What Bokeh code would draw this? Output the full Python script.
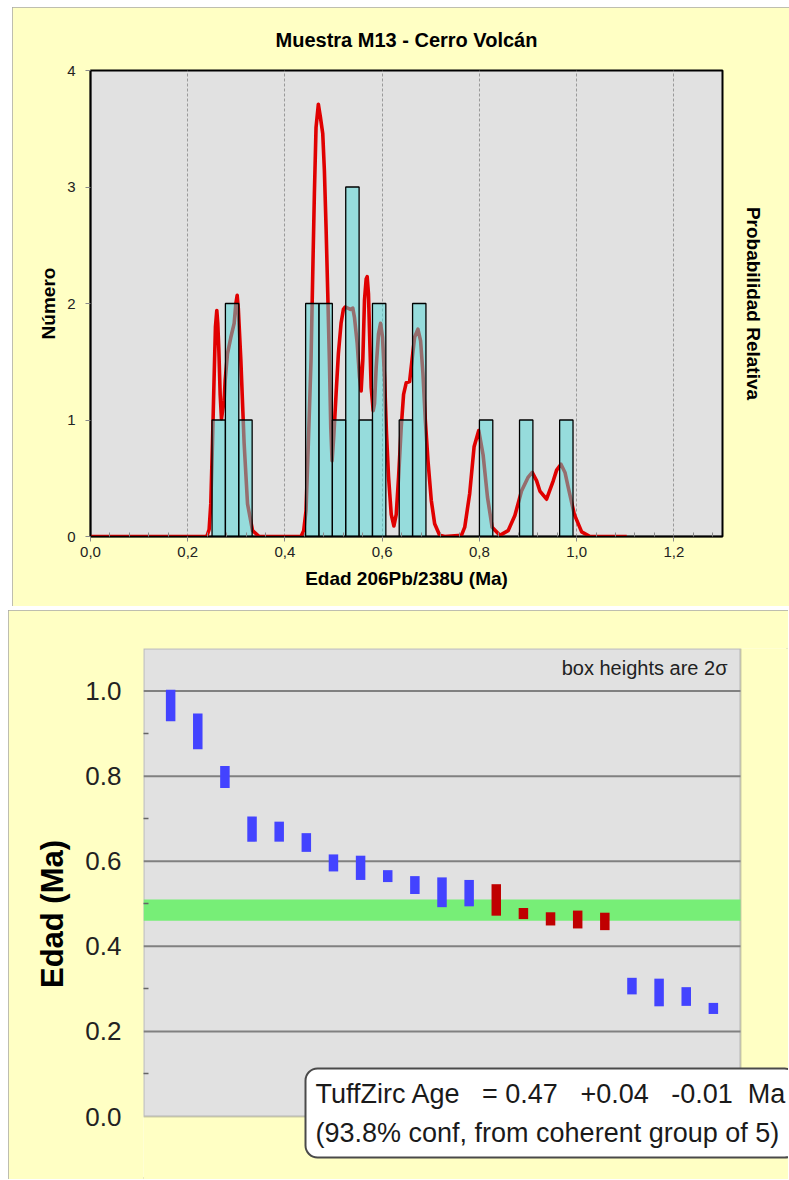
from bokeh.plotting import figure
from bokeh.models import (Range1d, FixedTicker, CustomJSTickFormatter, PrintfTickFormatter,
                          LinearAxis, Label, BoxAnnotation, ColumnDataSource)
from bokeh.embed import file_html
from bokeh.resources import INLINE

FONT = "Liberation Sans"
YELLOW = "#FFFFC4"
PLOTBG = "#E1E1E1"

# ---------------- data: histogram (top) ----------------
bin_left = [0.25, 0.2775, 0.305, 0.4425, 0.47, 0.4975, 0.525, 0.5525, 0.58,
            0.635, 0.6625, 0.80, 0.8825, 0.965]
bin_count = [1, 2, 1, 2, 2, 1, 3, 1, 2, 1, 2, 1, 1, 1]
bin_width = 0.0275

# relative probability curve (scaled to the count axis)
curve_x = [0.000, 0.2392, 0.244, 0.2474, 0.2509, 0.2543, 0.257, 0.2598, 0.2618, 0.264,
           0.2667, 0.2694, 0.2749, 0.2770, 0.2818, 0.2887, 0.2955, 0.2990, 0.3017, 0.304,
           0.3093, 0.316, 0.323, 0.3333, 0.347,
           0.433, 0.4385, 0.4433, 0.4481, 0.4536, 0.4577, 0.4605, 0.4639, 0.4687, 0.4729,
           0.4777, 0.4811, 0.4845, 0.488, 0.4914, 0.4942, 0.4969, 0.5003, 0.5051, 0.5099,
           0.5154, 0.5202, 0.5237, 0.5292, 0.5347, 0.5395, 0.543, 0.5485, 0.5533, 0.5567,
           0.5601, 0.5636, 0.567, 0.5691, 0.5718, 0.5746, 0.5773, 0.5815, 0.5842, 0.5876,
           0.5924, 0.5966, 0.6007, 0.6048, 0.6089, 0.6131, 0.6186, 0.6241, 0.6289, 0.6337,
           0.6392, 0.644, 0.6495, 0.6564, 0.6612, 0.6667, 0.6735, 0.679, 0.6838, 0.6887,
           0.6942, 0.701, 0.7079, 0.7182, 0.7285,
           0.763, 0.7698, 0.780, 0.789, 0.7986, 0.8076, 0.8165, 0.8261, 0.842, 0.859,
           0.8729, 0.8866, 0.9004, 0.9086, 0.9175, 0.9244, 0.9381, 0.952, 0.9588, 0.9677,
           0.976, 0.9828, 0.9952, 1.0103, 1.0275, 1.103]
curve_y = [0.00, 0.00, 0.06, 0.28, 0.80, 1.37, 1.80, 1.94, 1.83, 1.60,
           1.22, 1.01, 1.17, 1.34, 1.57, 1.71, 1.83, 2.00, 2.07, 1.96,
           1.51, 0.80, 0.28, 0.05, 0.00,
           0.00, 0.05, 0.22, 0.80, 1.51, 2.37, 2.94, 3.51, 3.71, 3.60,
           3.46, 3.14, 2.66, 2.09, 1.51, 0.94, 0.65, 0.85, 1.22, 1.57,
           1.83, 1.95, 1.97, 1.96, 1.95, 1.96, 1.88, 1.66, 1.37, 1.25,
           1.51, 2.03, 2.21, 2.23, 2.08, 1.66, 1.28, 1.08, 1.14, 1.45,
           1.74, 1.83, 1.71, 1.37, 0.88, 0.51, 0.19, 0.09, 0.19, 0.51,
           0.94, 1.22, 1.32, 1.33, 1.51, 1.71, 1.78, 1.68, 1.40, 1.00,
           0.65, 0.31, 0.11, 0.01, 0.00,
           0.01, 0.08, 0.37, 0.77, 0.91, 0.70, 0.34, 0.08, 0.01, 0.05,
           0.18, 0.39, 0.51, 0.55, 0.48, 0.39, 0.32, 0.48, 0.57, 0.62,
           0.55, 0.42, 0.19, 0.04, 0.00, 0.00]

x_ticks = [0.0, 0.2, 0.4, 0.6, 0.8, 1.0, 1.2]
y_ticks = [0, 1, 2, 3, 4]

# ---------------- data: ranked ages (bottom) ----------------
grain = list(range(1, 22))
age = [0.966, 0.905, 0.798, 0.6755, 0.6695, 0.644, 0.596, 0.5845, 0.565, 0.544, 0.527,
       0.525, 0.509, 0.477, 0.4645, 0.463, 0.4585, 0.3065, 0.2915, 0.282, 0.254]
half_box = [0.037, 0.042, 0.026, 0.0295, 0.0235, 0.022, 0.020, 0.0285, 0.014, 0.021, 0.035,
            0.031, 0.037, 0.013, 0.0155, 0.021, 0.0205, 0.0195, 0.0325, 0.022, 0.013]
in_group = [0] * 12 + [1] * 5 + [0] * 4
tz_age, tz_plus, tz_minus = 0.47, 0.04, 0.01
age_ticks = [0.0, 0.2, 0.4, 0.6, 0.8, 1.0]
age_top = 1.1
n_slots = len(grain) + 1

# ================= top chart =================
p1 = figure(width=777, height=599, x_range=Range1d(0, 1.3), y_range=Range1d(0, 4),
            output_backend="svg", toolbar_location=None,
            min_border_left=78, min_border_right=67, min_border_top=63, min_border_bottom=70,
            background_fill_color=PLOTBG, border_fill_color=YELLOW,
            outline_line_color="black", outline_line_width=2, margin=(7, 0, 0, 12),
            styles={"outline": "2px solid #A8A8A8", "outline-offset": "-2px"})

p1.title.text = "Muestra M13 - Cerro Volcán"
p1.title.align = "center"
p1.title.standoff = 39
p1.title.text_font = FONT
p1.title.text_font_size = "20px"
p1.title.text_font_style = "bold"
p1.title.text_color = "black"

p1.xaxis.ticker = FixedTicker(ticks=x_ticks,
                              minor_ticks=[round(i * 0.04, 2) for i in range(33) if i % 5])
p1.xaxis.formatter = CustomJSTickFormatter(code="return tick.toFixed(1).replace('.', ',');")
p1.yaxis.ticker = FixedTicker(ticks=y_ticks, minor_ticks=[])
for ax in (p1.xaxis[0], p1.yaxis[0]):
    ax.axis_line_color = "black"
    ax.axis_line_width = 1.5
    ax.major_tick_line_color = "#8A8A8A"
    ax.major_tick_in = 0
    ax.major_tick_out = 5
    ax.minor_tick_line_color = "#8A8A8A"
    ax.minor_tick_in = 4
    ax.minor_tick_out = 0
    ax.major_label_text_font = FONT
    ax.major_label_text_font_size = "15px"
    ax.major_label_text_color = "#222222"
    ax.axis_label_text_font = FONT
    ax.axis_label_text_font_style = "bold"
    ax.axis_label_text_font_size = "19px"
    ax.axis_label_text_color = "black"
p1.xaxis.major_label_standoff = 5
p1.xaxis.axis_label = "Edad 206Pb/238U (Ma)"
p1.xaxis.axis_label_standoff = 8
p1.yaxis.major_label_standoff = 10
p1.yaxis.axis_label = "Número"
p1.yaxis.axis_label_standoff = 5

right = LinearAxis(ticker=FixedTicker(ticks=[]), axis_label="Probabilidad Relativa",
                   axis_line_color=None, major_tick_line_color=None, minor_tick_line_color=None,
                   major_label_text_font_size="0px", axis_label_standoff=20,
                   axis_label_text_font=FONT, axis_label_text_font_style="bold",
                   axis_label_text_font_size="19px", axis_label_text_color="black")
p1.add_layout(right, "right")

p1.xgrid.grid_line_color = "#9A9A9A"
p1.xgrid.grid_line_dash = "3 2"
p1.xgrid.grid_line_width = 1
p1.ygrid.visible = False

p1.line(curve_x, curve_y, line_color="#E00000", line_width=3.6, line_join="round")

hist = ColumnDataSource(dict(left=bin_left,
                             right=[b + bin_width for b in bin_left],
                             top=bin_count))
p1.quad(left="left", right="right", bottom=0, top="top", source=hist,
        fill_color="#4FD8D8", fill_alpha=0.51, line_color="black", line_width=1.3)

# ================= bottom chart =================
# the frame reaches the right and bottom edges of the panel so that the result
# box can overhang the plot area as in the original; the plot area is [0, n_slots] x [0, 1.1]
W2, H2 = 780, 569
left_px, right_px_area, top_px, bottom_px_area = 135, 597, 38, 468
x_end = n_slots * (W2 - left_px) / right_px_area
y_start = -age_top * (H2 - top_px - bottom_px_area) / bottom_px_area
p2 = figure(width=W2, height=H2, x_range=Range1d(0, x_end), y_range=Range1d(y_start, age_top),
            output_backend="svg", toolbar_location=None,
            min_border_left=left_px, min_border_right=0, min_border_top=top_px,
            min_border_bottom=0,
            background_fill_color=YELLOW, border_fill_color=YELLOW,
            outline_line_color=None, margin=(4, 0, 0, 8),
            styles={"outline": "2px solid #A8A8A8", "outline-offset": "-2px"})
p2.xaxis.visible = False
p2.xgrid.visible = False
p2.ygrid.visible = False

# plot area
p2.add_layout(BoxAnnotation(left=0, right=n_slots, bottom=0, top=age_top,
                            fill_color=PLOTBG, fill_alpha=1, line_color="#5A5A5A",
                            line_width=2, level="image"))
# horizontal grid lines inside the plot area
p2.segment(x0=[0] * (len(age_ticks) - 1), x1=[n_slots] * (len(age_ticks) - 1),
           y0=age_ticks[1:], y1=age_ticks[1:], line_color="#808080", line_width=2,
           level="underlay")

ya = p2.yaxis[0]
ya.bounds = (0, age_top)
ya.ticker = FixedTicker(ticks=age_ticks, minor_ticks=[0.1, 0.3, 0.5, 0.7, 0.9])
ya.formatter = PrintfTickFormatter(format="%.1f")
ya.axis_line_color = None
ya.major_tick_line_color = None
ya.major_tick_in = 0
ya.major_tick_out = 0
ya.minor_tick_in = 5
ya.minor_tick_out = 0
ya.minor_tick_line_color = "#666666"
ya.minor_tick_line_width = 1.5
ya.major_label_standoff = 22
ya.major_label_text_font = FONT
ya.major_label_text_font_size = "26px"
ya.major_label_text_color = "#222222"
ya.axis_label = "Edad (Ma)"
ya.axis_label_standoff = 12
ya.axis_label_text_font = FONT
ya.axis_label_text_font_style = "bold"
ya.axis_label_text_font_size = "31px"
ya.axis_label_text_color = "black"

p2.add_layout(BoxAnnotation(left=0, right=n_slots,
                            bottom=tz_age - tz_minus, top=tz_age + tz_plus,
                            fill_color="#77EE77", fill_alpha=1, line_color=None,
                            level="underlay"))

boxes = ColumnDataSource(dict(
    x=grain,
    top=[a + h for a, h in zip(age, half_box)],
    bottom=[a - h for a, h in zip(age, half_box)],
    color=["#C00000" if g else "#4343FF" for g in in_group]))
p2.vbar(x="x", width=0.35, top="top", bottom="bottom", fill_color="color",
        line_color=None, source=boxes)

p2.add_layout(Label(x=n_slots - 0.48, y=1.053, text="box heights are 2σ", text_align="right",
                    text_baseline="middle", text_font=FONT, text_font_size="20px",
                    text_color="#222222"))

nb = "\u00a0"
tz_text = ("TuffZirc Age" + nb * 3 + "= " + f"{tz_age:.2f}" + nb * 3 + f"+{tz_plus:.2f}"
           + nb * 3 + f"-{tz_minus:.2f}" + nb * 2 + "Ma\n"
           + "(93.8% conf, from coherent group of 5)")
common = dict(x=5.97, y=0.1128, text=tz_text, text_align="left", text_baseline="top",
              text_font=FONT, text_font_size="27px", text_line_height=1.3,
              padding=10, border_radius=12)
p2.add_layout(Label(**common, text_alpha=0, background_fill_color="#7A7A7A",
                    background_fill_alpha=0.7, x_offset=4, y_offset=-5))
p2.add_layout(Label(**common, text_color="#1A1A1A", background_fill_color="white",
                    border_line_color="#4A4A4A", border_line_width=2))

open("out.html", "w").write(file_html([p1, p2], INLINE))
